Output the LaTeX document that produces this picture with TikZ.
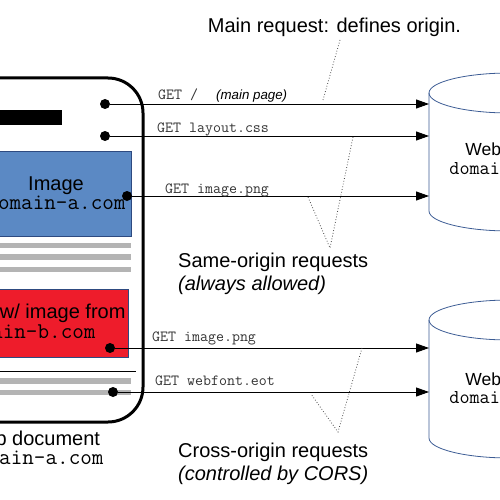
\documentclass[tikz,border=0pt]{standalone}
\usepackage{fontspec}
\setmainfont{Liberation Sans}
\usetikzlibrary{arrows.meta}

\definecolor{imgblue}{HTML}{5B89C4}
\definecolor{imgline}{HTML}{2E4A80}
\definecolor{imgred}{HTML}{EE1C2B}
\definecolor{bargray}{HTML}{B4B4B4}
\definecolor{srvline}{HTML}{3C5C94}

\begin{document}
\begin{tikzpicture}[x=1pt,y=-1pt,
    dot/.style={circle,fill=black,inner sep=0pt,minimum size=10pt},
    req/.style={-{Triangle[length=13pt,width=9pt]},line width=0.9pt},
    getlabel/.style={anchor=base west,inner sep=0pt,text=black!80,
        font=\fontsize{15.5}{17}\selectfont\ttfamily},
    note/.style={dotted,line width=0.8pt,black!70},
    bigtext/.style={anchor=base,inner sep=0pt,font=\fontsize{20}{23}\selectfont},
    bigmono/.style={anchor=base,inner sep=0pt,font=\fontsize{22.5}{25}\selectfont\ttfamily},
    srvtext/.style={anchor=base,inner sep=0pt,font=\fontsize{17.5}{20}\selectfont},
    srvmono/.style={anchor=base,inner sep=0pt,font=\fontsize{19.6}{22}\selectfont\ttfamily},
    bar/.style={bargray,line width=5.5pt},
    server/.style={srvline,line width=0.8pt}]

    \useasboundingbox (0,0) rectangle (500,500);
    \clip (0,0) rectangle (500,500);

    % browser window
    \draw[line width=3pt,rounded corners=35pt] (-60,78) rectangle (143,422);
    \fill (-5,110) rectangle (62,125);

    % image from domain-a
    \draw[imgline,fill=imgblue] (-20,151) rectangle (131,236);
    \node[bigtext] (imgA) at (56,190) {Image};
    \node[bigmono] (imgAsrc) at (56,209) {domain-a.com};

    \draw[bar] (-20,245.5) -- (131,245.5);
    \draw[bar] (-20,257) -- (131,257);
    \draw[bar] (-20,269.5) -- (131,269.5);

    % canvas with image from domain-b
    \draw[imgline,fill=imgred] (-20,289) rectangle (128,357);
    \node[bigtext] (canvasB) at (26,318) {Canvas w/ image from};
    \node[bigmono] (canvasBsrc) at (26,338) {domain-b.com};

    \draw[line width=0.8pt] (-20,371) -- (136,371);
    \draw[bar] (-20,381) -- (131,381);
    \draw[bar] (-20,392.5) -- (131,392.5);

    \node[bigtext] (docname) at (33,445) {Web document};
    \node[bigmono] (docsrc) at (34,464) {domain-a.com};

    % servers
    \coordinate (srvA) at (429,93);
    \coordinate (srvB) at (429,320);
    \draw[server] (429,93) -- (429,211)
        arc[start angle=180,end angle=360,x radius=81pt,y radius=20pt] -- (591,93);
    \draw[server] (510,93) ellipse[x radius=81pt,y radius=20pt];
    \draw[server] (429,320) -- (429,438)
        arc[start angle=180,end angle=360,x radius=81pt,y radius=20pt] -- (591,320);
    \draw[server] (510,320) ellipse[x radius=81pt,y radius=20pt];

    \node[srvtext] (srvAname) at (510,155) {Web server};
    \node[srvmono] (srvAsrc) at (510,174) {domain-a.com};
    \node[srvtext] (srvBname) at (510,385) {Web server};
    \node[srvmono] (srvBsrc) at (510,403) {domain-b.com};

    % requests
    \node[dot] (dmain) at (105,104) {};
    \node[dot] (dcss) at (105,136) {};
    \node[dot] (dimgA) at (127,196) {};
    \node[dot] (dimgB) at (110,348) {};
    \node[dot] (dfont) at (113,392) {};

    \draw[req] (dmain) -- (dmain -| srvA);
    \draw[req] (dcss) -- (dcss -| srvA);
    \draw[req] (dimgA) -- (dimgA -| srvA);
    \draw[req] (dimgB) -- (dimgB -| srvB);
    \draw[req] (dfont) -- (dfont -| srvB);

    \node[getlabel] (lmain) at (158,100) {GET /};
    \node[getlabel,text=black,font=\fontsize{13.3}{15}\selectfont\itshape] (lmainpage) at (216,100) {(main page)};
    \node[getlabel] (lcss) at (157,132) {GET layout.css};
    \node[getlabel] (limgA) at (165,193) {GET image.png};
    \node[getlabel] (limgB) at (152,341) {GET image.png};
    \node[getlabel] (lfont) at (155,385) {GET webfont.eot};

    % notes
    \node[bigtext] (mainnote) at (334.5,33) {Main request: defines origin.};
    \node[bigtext,anchor=base west] (samenote) at (178,267) {Same-origin requests};
    \node[bigtext,anchor=base west] (samesub) at (178,290) {\itshape (always allowed)};
    \node[bigtext,anchor=base west] (crossnote) at (178,457) {Cross-origin requests};
    \node[bigtext,anchor=base west] (crosssub) at (178,480) {\itshape (controlled by CORS)};

    \coordinate (mtip) at (340,40);
    \coordinate (stip) at (330,248);
    \coordinate (ctip) at (338,432);
    \draw[note] (mtip) -- (323,100);
    \draw[note] (353,137) -- (stip) -- (308,197);
    \draw[note] (362,348) -- (ctip) -- (311,394);

\end{tikzpicture}
\end{document}
